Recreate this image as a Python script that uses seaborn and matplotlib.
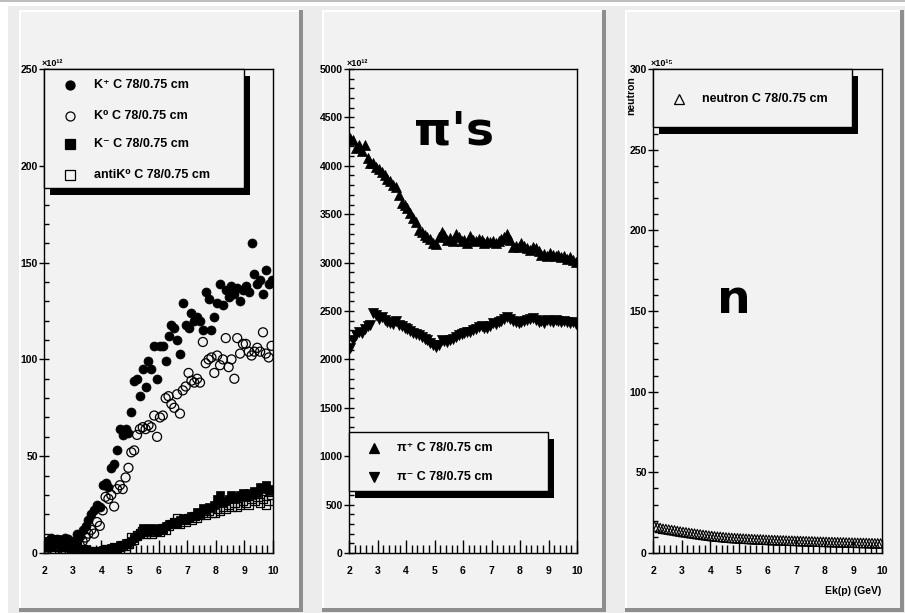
import matplotlib.pyplot as plt
import seaborn as sns
from matplotlib.patches import Rectangle
from matplotlib.lines import Line2D
from matplotlib.ticker import MultipleLocator

sns.set_style("ticks")
plt.rcParams['font.family'] = ['Liberation Sans', 'DejaVu Sans']
plt.rcParams['font.weight'] = 'bold'
plt.rcParams['text.color'] = 'black'
plt.rcParams['xtick.color'] = 'black'
plt.rcParams['ytick.color'] = 'black'

# Ek(p) bin centres (GeV)
ek = [2.05, 2.15, 2.25, 2.35, 2.45, 2.55, 2.65, 2.75, 2.85, 2.95,
      3.05, 3.15, 3.25, 3.35, 3.45, 3.55, 3.65, 3.75, 3.85, 3.95,
      4.05, 4.15, 4.25, 4.35, 4.45, 4.55, 4.65, 4.75, 4.85, 4.95,
      5.05, 5.15, 5.25, 5.35, 5.45, 5.55, 5.65, 5.75, 5.85, 5.95,
      6.05, 6.15, 6.25, 6.35, 6.45, 6.55, 6.65, 6.75, 6.85, 6.95,
      7.05, 7.15, 7.25, 7.35, 7.45, 7.55, 7.65, 7.75, 7.85, 7.95,
      8.05, 8.15, 8.25, 8.35, 8.45, 8.55, 8.65, 8.75, 8.85, 8.95,
      9.05, 9.15, 9.25, 9.35, 9.45, 9.55, 9.65, 9.75, 9.85, 9.95]

# kaons (x10^12)
k_plus = [3, 6, 8, 5, 7, 4, 6, 8, 7, 5,
          6, 10, 9, 12, 14, 17, 20, 22, 25, 24,
          35, 36, 34, 44, 46, 53, 64, 61, 64, 62,
          73, 89, 90, 81, 95, 86, 99, 95, 107, 90,
          107, 107, 99, 112, 118, 116, 110, 103, 129, 118,
          116, 124, 120, 122, 120, 115, 135, 131, 115, 122,
          129, 139, 128, 136, 132, 138, 134, 137, 130, 136,
          138, 135, 160, 144, 139, 141, 134, 146, 139, 141]
k_zero = [2, 4, 3, 5, 3, 4, 2, 5, 3, 4,
          3, 5, 4, 6, 8, 10, 12, 10, 16, 14,
          22, 29, 28, 30, 24, 33, 35, 33, 39, 44,
          52, 53, 61, 64, 65, 64, 66, 65, 71, 60,
          70, 71, 80, 81, 77, 75, 82, 72, 84, 86,
          93, 89, 88, 90, 88, 109, 98, 100, 101, 93,
          102, 97, 100, 111, 96, 100, 90, 111, 103, 108,
          108, 104, 102, 104, 106, 104, 114, 103, 101, 107]
k_minus = [4, 6, 3, 5, 7, 4, 6, 3, 5, 2,
           3, 4, 2, 1, 2, 1, 0.5, 0.5, 1, 1,
           1.5, 2, 2, 2.5, 3, 3, 4, 4, 5, 5,
           6, 8, 9, 10, 13, 12, 11, 13, 12, 11,
           13, 12, 14, 15, 15, 16, 15, 17, 18, 17,
           18, 19, 19, 21, 20, 23, 22, 24, 23, 25,
           28, 30, 26, 27, 28, 30, 28, 29, 30, 31,
           29, 31, 30, 32, 31, 34, 33, 35, 32, 33]
anti_k0 = [2, 3, 5, 2, 4, 3, 5, 2, 4, 3,
           2, 3, 1, 2, 1, 1, 0.5, 1, 0.5, 1,
           1, 2, 1.5, 2, 3, 2.5, 3, 4, 4, 5,
           8, 7, 9, 10, 11, 10, 12, 10, 11, 12,
           11, 13, 12, 14, 15, 16, 18, 15, 17, 16,
           18, 17, 19, 18, 20, 21, 20, 22, 21, 21,
           23, 22, 24, 23, 25, 24, 26, 24, 25, 27,
           26, 25, 28, 27, 29, 26, 28, 25, 27, 30]

# pions (x10^12)
pi_plus = [4290, 4270, 4180, 4220, 4150, 4220, 4080, 4030, 4030, 3990,
           3970, 3940, 3900, 3860, 3840, 3800, 3780, 3700, 3620, 3600,
           3560, 3510, 3460, 3420, 3340, 3320, 3280, 3260, 3240, 3200,
           3190, 3260, 3320, 3290, 3230, 3250, 3220, 3300, 3260, 3220,
           3230, 3200, 3270, 3230, 3220, 3240, 3230, 3200, 3220, 3210,
           3220, 3200, 3220, 3240, 3260, 3300, 3230, 3160, 3170, 3160,
           3200, 3170, 3150, 3130, 3160, 3150, 3120, 3080, 3090, 3070,
           3100, 3080, 3070, 3080, 3060, 3070, 3040, 3060, 3030, 3010]
pi_minus = [2120, 2200, 2250, 2280, 2270, 2310, 2350, 2360, 2480, 2460,
            2420, 2440, 2410, 2390, 2380, 2370, 2400, 2360, 2340, 2320,
            2310, 2290, 2270, 2260, 2250, 2230, 2210, 2200, 2170, 2150,
            2130, 2150, 2200, 2190, 2180, 2200, 2210, 2230, 2250, 2260,
            2270, 2280, 2280, 2300, 2310, 2330, 2350, 2320, 2320, 2340,
            2380, 2370, 2390, 2400, 2420, 2440, 2420, 2400, 2390, 2380,
            2390, 2400, 2410, 2420, 2430, 2410, 2390, 2400, 2380, 2410,
            2400, 2390, 2410, 2400, 2390, 2400, 2390, 2380, 2390, 2370]

# neutrons (x10^15)
neutron = [16.5, 16, 15.5, 15, 14.8, 14.5, 14.2, 14, 13.6, 13.3,
           13, 12.8, 12.5, 12.2, 12, 11.7, 11.5, 11.2, 11, 10.7,
           10.5, 10.3, 10.1, 10, 9.8, 9.6, 9.5, 9.3, 9.2, 9.1,
           9, 8.9, 8.8, 8.7, 8.6, 8.5, 8.4, 8.4, 8.3, 8.2,
           8.1, 8, 8, 7.9, 7.8, 7.8, 7.7, 7.6, 7.6, 7.5,
           7.5, 7.4, 7.3, 7.3, 7.2, 7.2, 7.1, 7, 7, 6.9,
           6.9, 6.8, 6.8, 6.7, 6.7, 6.6, 6.6, 6.5, 6.5, 6.4,
           6.4, 6.3, 6.3, 6.2, 6.2, 6.1, 6.1, 6, 6, 5.9]

W, H = 905, 613
PAD = '#f2f2f2'
fig = plt.figure(figsize=(W / 100, H / 100), dpi=100)
fig.patch.set_facecolor('white')


def fx(px):
    return px / W


def fy(py):
    return 1 - py / H


def box(x0, y0, x1, y1, z, **kw):
    fig.add_artist(Rectangle((fx(x0), fy(y1)), (x1 - x0) / W, (y1 - y0) / H,
                             transform=fig.transFigure, zorder=z, **kw))


# canvas and raised pads (ROOT look)
box(0, 0, W, 2, -10, color='#bdbdbd', lw=0)
box(8, 6, W, H, -10, color='#ececec', lw=0)
for x0, x1 in [(19, 303), (322, 606), (625, 904)]:
    box(x0, 10, x1, 612, -9, color=PAD, lw=0)
    box(x0, 10, x0 + 2, 612, -8, color='white', lw=0)
    box(x0, 10, x1, 12, -8, color='white', lw=0)
    box(x1 - 4, 10, x1, 612, -8, color='#8e8e8e', lw=0)
    box(x0, 608, x1, 612, -8, color='#8e8e8e', lw=0)


def make_axes(left, right, ymax, ymajor, yminor):
    ax = fig.add_axes([fx(left), fy(553), (right - left) / W, 484 / H])
    ax.set_facecolor(PAD)
    ax.set_xlim(2, 10)
    ax.set_ylim(0, ymax)
    ax.xaxis.set_major_locator(MultipleLocator(1))
    ax.xaxis.set_minor_locator(MultipleLocator(0.2))
    ax.yaxis.set_major_locator(MultipleLocator(ymajor))
    ax.yaxis.set_minor_locator(MultipleLocator(yminor))
    ax.tick_params(axis='x', which='major', direction='in', length=9.5, width=1,
                   labelsize=7.5, pad=9, color='black', labelcolor='black')
    ax.tick_params(axis='x', which='minor', direction='in', length=5.5, width=1,
                   color='black')
    ax.tick_params(axis='y', which='major', direction='inout', length=7, width=1,
                   labelsize=7.5, pad=1, color='black', labelcolor='black')
    ax.tick_params(axis='y', which='minor', direction='in', length=3.5, width=1,
                   color='black')
    for s in ax.spines.values():
        s.set_visible(True)
        s.set_color('black')
        s.set_linewidth(1)
    return ax


ax1 = make_axes(44, 273, 250, 50, 10)
ax2 = make_axes(349, 577, 5000, 500, 100)
ax3 = make_axes(653, 882, 300, 50, 10)

# left: kaons
sns.scatterplot(x=ek, y=k_plus, marker='o', s=42, color='black',
                edgecolor='black', linewidth=0.5, ax=ax1)
sns.scatterplot(x=ek, y=k_zero, marker='o', s=42, color='black',
                facecolor='none', edgecolor='black', linewidth=0.9, ax=ax1)
sns.scatterplot(x=ek, y=k_minus, marker='s', s=38, color='black',
                edgecolor='black', linewidth=0.5, ax=ax1)
sns.scatterplot(x=ek, y=anti_k0, marker='s', s=38, color='black',
                facecolor='none', edgecolor='black', linewidth=0.9, ax=ax1)

# middle: pions
sns.scatterplot(x=ek, y=pi_plus, marker='^', s=52, color='black',
                edgecolor='black', linewidth=0.5, ax=ax2)
sns.scatterplot(x=ek, y=pi_minus, marker='v', s=52, color='black',
                edgecolor='black', linewidth=0.5, ax=ax2)

# right: neutrons
sns.scatterplot(x=ek, y=neutron, marker='^', s=46, color='black',
                facecolor='none', edgecolor='black', linewidth=0.8, ax=ax3)

for ax, exp in [(ax1, '×10¹²'), (ax2, '×10¹²'), (ax3, '×10¹⁵')]:
    ax.text(-0.01, 1.003, exp, transform=ax.transAxes, ha='left', va='bottom',
            fontsize=6.5, color='black')

fig.text(fx(631), fy(76), 'neutron', rotation=90, ha='center', va='top',
         fontsize=7.5, color='black')
fig.text(fx(881), fy(591), 'Ek(p) (GeV)', ha='right', va='center', fontsize=7.5,
         color='black')


# ROOT-style legends with drop shadow
def legend(x0, y0, x1, y1, entries, mx, tx):
    box(x0 + 6, y0 + 7, x1 + 6, y1 + 7, 4, color='black', lw=0)
    box(x0, y0, x1, y1, 5, facecolor=PAD, edgecolor='black', lw=1)
    for y, label, marker, filled in entries:
        fig.add_artist(Line2D([fx(mx)], [fy(y)], marker=marker,
                              ms=6.5 if marker in 'os' else 7.5,
                              mfc='black' if filled else 'none', mec='black',
                              mew=0.9, ls='none', transform=fig.transFigure,
                              zorder=6))
        fig.text(fx(tx), fy(y), label, ha='left', va='center', fontsize=9,
                 color='black', zorder=6)


legend(44, 69, 244, 188, [(85, 'K⁺ C 78/0.75 cm', 'o', True),
                          (116, 'K⁰ C 78/0.75 cm', 'o', False),
                          (144, 'K⁻ C 78/0.75 cm', 's', True),
                          (175, 'antiK⁰ C 78/0.75 cm', 's', False)], 70, 94)
legend(349, 432, 548, 491, [(448, 'π⁺ C 78/0.75 cm', '^', True),
                            (477, 'π⁻ C 78/0.75 cm', 'v', True)], 374, 397)
legend(653, 69, 852, 127, [(99, 'neutron C 78/0.75 cm', '^', False)], 679, 702)

# hand-written annotations
fig.text(fx(454), fy(132), "π's", ha='center', va='center', fontsize=34,
         fontweight='bold', family='DejaVu Sans', color='black')
fig.text(fx(734), fy(300), 'n', ha='center', va='center', fontsize=34,
         fontweight='bold', family='DejaVu Sans', color='black')

fig.savefig('out.png', dpi=100)
